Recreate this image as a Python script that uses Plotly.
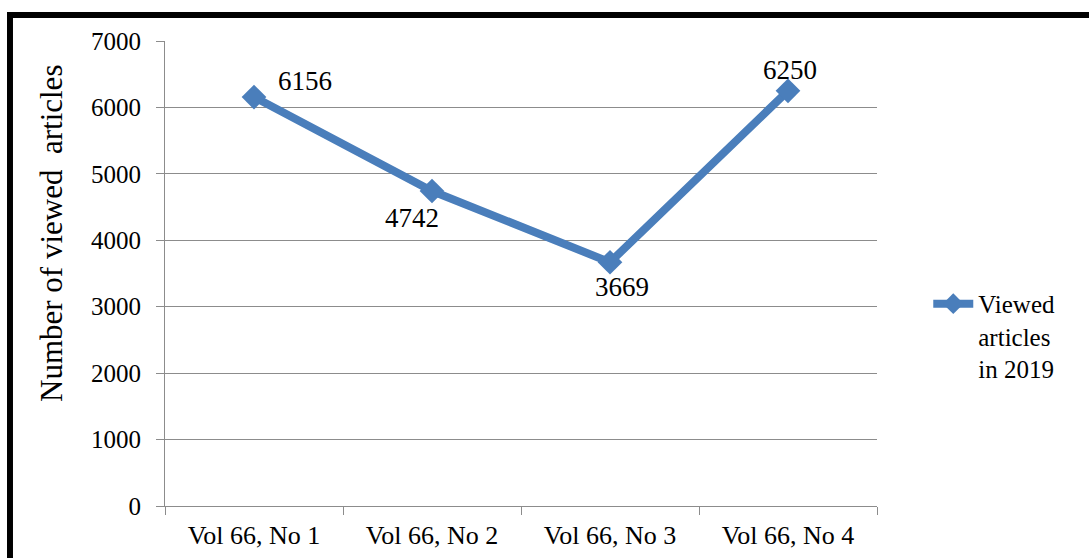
import plotly.graph_objects as go

categories = ["Vol 66, No 1", "Vol 66, No 2", "Vol 66, No 3", "Vol 66, No 4"]
viewed = [6156, 4742, 3669, 6250]
label_dx = [51, -20, 12, 2]
label_dy = [16, -27, -25, 21]
y_title = "Number of viewed  articles"

BLUE = "#4A7EBB"
GRID = "#8C8C8C"
FONT = "Times New Roman, Liberation Serif, serif"

fig = go.Figure()
fig.add_trace(go.Scatter(
    x=categories, y=viewed, mode="lines+markers",
    name="Viewed<br>articles<br>in 2019",
    line=dict(color=BLUE, width=8),
    marker=dict(symbol="diamond", size=19, color=BLUE),
))

for c, v, dx, dy in zip(categories, viewed, label_dx, label_dy):
    fig.add_annotation(x=c, y=v, text=str(v), showarrow=False,
                       xshift=dx, yshift=dy,
                       font=dict(family=FONT, size=27, color="#000"))

# Y axis title (placed like the original, above the axis centre)
fig.add_annotation(xref="paper", yref="paper", x=-0.1587, y=0.585,
                   text=y_title, textangle=-90, showarrow=False,
                   xanchor="center", yanchor="middle",
                   font=dict(family=FONT, size=31, color="#000"))

# Outer frame (top and left black bands)
fig.add_shape(type="rect", xref="paper", yref="paper",
              x0=-0.2219, x1=1.2978, y0=1.0495, y1=1.0624,
              fillcolor="black", line=dict(width=0), layer="above")
fig.add_shape(type="rect", xref="paper", yref="paper",
              x0=-0.2219, x1=-0.2135, y0=-0.12, y1=1.0624,
              fillcolor="black", line=dict(width=0), layer="above")

fig.update_layout(
    width=1089, height=558,
    margin=dict(l=165, r=212, t=41, b=52),
    paper_bgcolor="white", plot_bgcolor="white",
    font=dict(family=FONT, color="#000", size=24),
    showlegend=True,
    legend=dict(x=1.072, y=0.484, xanchor="left", yanchor="top",
                valign="top", font=dict(family=FONT, size=25),
                bgcolor="rgba(0,0,0,0)", itemwidth=40),
)
fig.update_xaxes(
    type="category", range=[-0.5, 3.5], automargin=False,
    showline=True, linecolor=GRID, linewidth=1,
    ticks="outside", tickson="boundaries", ticklen=8, tickcolor=GRID,
    showgrid=False, tickfont=dict(family=FONT, size=26),
    ticklabelstandoff=6,
)
fig.update_yaxes(
    range=[0, 7000], dtick=1000, automargin=False,
    showline=True, linecolor=GRID, linewidth=1,
    ticks="outside", ticklen=8, tickcolor=GRID,
    showgrid=True, gridcolor=GRID, gridwidth=1,
    zeroline=False,
    tickfont=dict(family=FONT, size=25),
    ticklabelstandoff=10,
)

fig.write_html("out.html")
